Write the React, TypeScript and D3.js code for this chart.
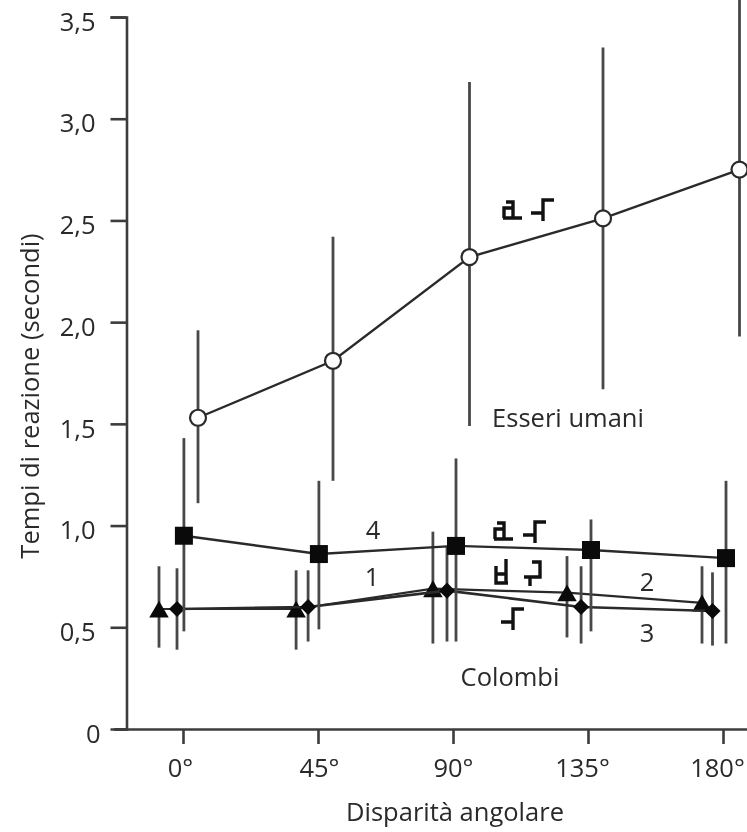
import * as d3 from "d3";
import {useEffect, useRef} from "react";

const angles = [0, 45, 90, 135, 180];
const yTicks = [0, 0.5, 1, 1.5, 2, 2.5, 3, 3.5];
const xLabels = ["0°", "45°", "90°", "135°", "180°"];
const xLabelNudge = [-3, 1, 0, -6, -6];

// each series is drawn a little to the side of its angle, as in the figure
const humanX = [5, 50, 95.5, 140, 185.5];
const humanY = [1.53, 1.81, 2.32, 2.51, 2.75];
const humanHi = [1.96, 2.42, 3.18, 3.35, 3.7];
const humanLo = [1.11, 1.22, 1.49, 1.67, 1.93];

const squareX = [0.3, 45.3, 91, 136, 181];
const squareY = [0.95, 0.86, 0.9, 0.88, 0.84];
const squareHi = [1.43, 1.22, 1.33, 1.03, 1.22];
const squareLo = [0.48, 0.49, 0.43, 0.48, 0.42];

const triangleX = [-8, 37.7, 83.3, 128, 173];
const triangleY = [0.59, 0.59, 0.69, 0.67, 0.62];
const triangleHi = [0.8, 0.78, 0.97, 0.85, 0.8];
const triangleLo = [0.4, 0.39, 0.42, 0.45, 0.42];

const diamondX = [-2, 41.7, 88, 132.7, 176.5];
const diamondY = [0.59, 0.6, 0.68, 0.6, 0.58];
const diamondHi = [0.79, 0.78, 0.9, 0.8, 0.77];
const diamondLo = [0.39, 0.43, 0.43, 0.42, 0.41];

const seriesLabels = [
    {text: "Esseri umani", x: 568, y: 427},
    {text: "Colombi", x: 510, y: 686},
    {text: "4", x: 373, y: 539},
    {text: "1", x: 372, y: 586},
    {text: "2", x: 647, y: 591},
    {text: "3", x: 647, y: 642},
];

// small stimulus shapes printed next to the lines
const glyphA = "M-9,8 H10 M1,8 V-8 H-6 M-8,8 V-2 H1";
const glyphB = "M-12,2 H0 M0,10 V-11 H11";
const glyphC = "M-6,-6 V11 H6 M4,-13 V11 M-6,2 H4";
const glyphD = "M0,-11 H8 V4 H-8 M-2,4 V13";
const glyphs = [
    {d: glyphA, x: 512, y: 210},
    {d: glyphB, x: 543, y: 211},
    {d: glyphA, x: 503, y: 531},
    {d: glyphB, x: 535, y: 533},
    {d: glyphC, x: 502, y: 572},
    {d: glyphD, x: 532, y: 573},
    {d: glyphB, x: 513, y: 620},
];

const App = () => {
    const ref = useRef<SVGSVGElement>(null);

    useEffect(() => {
        const width = 747;
        const svg = d3.select(ref.current);
        svg.selectAll("*").remove();
        const font = "'Open Sans', sans-serif";
        const ink = "#2a2a2a";
        const fontSize = 25.5;

        const x = d3.scaleLinear().domain([0, 180]).range([183, 723]);
        const y = d3.scaleLinear().domain([0, 3.5]).range([729, 17]);

        const drawSeries = (xs, ys, his, los, lineWidth, mark) => {
            const g = svg.append("g");
            xs.forEach((d, i) => {
                g.append("line")
                    .attr("x1", x(d)).attr("x2", x(d))
                    .attr("y1", y(his[i])).attr("y2", y(los[i]))
                    .attr("stroke", "#484848").attr("stroke-width", 2.8);
            });
            const line = d3.line<number>().x((d, i) => x(xs[i])).y(d => y(d));
            g.append("path")
                .attr("d", line(ys))
                .attr("fill", "none")
                .attr("stroke", ink)
                .attr("stroke-width", lineWidth);
            xs.forEach((d, i) => mark(g, x(d), y(ys[i])));
        };

        const symbolMark = (type, size, rotate = 0, dy = 0) => (g, px, py) =>
            g.append("path")
                .attr("d", d3.symbol().type(type).size(size)())
                .attr("transform", `translate(${px},${py + dy}) rotate(${rotate})`)
                .attr("fill", "#0a0a0a");

        drawSeries(triangleX, triangleY, triangleHi, triangleLo, 2.2, symbolMark(d3.symbolTriangle, 165, 0, 3));
        drawSeries(diamondX, diamondY, diamondHi, diamondLo, 2.6, symbolMark(d3.symbolSquare, 130, 45));
        drawSeries(squareX, squareY, squareHi, squareLo, 2.4, symbolMark(d3.symbolSquare, 324));
        drawSeries(humanX, humanY, humanHi, humanLo, 2.4, (g, px, py) =>
            g.append("circle")
                .attr("cx", px).attr("cy", py).attr("r", 8)
                .attr("fill", "white")
                .attr("stroke", ink)
                .attr("stroke-width", 2.2));

        // axes
        const yAxis = svg.append("g")
            .attr("transform", "translate(126.5,0)")
            .call(d3.axisLeft(y).tickValues(yTicks).tickSize(16).tickPadding(15)
                .tickFormat(d => (d === 0 ? "0" : d3.format(".1f")(d).replace(".", ","))));
        const xAxis = svg.append("g")
            .attr("transform", "translate(0,729)")
            .call(d3.axisBottom(x).tickValues(angles).tickSize(15).tickPadding(15)
                .tickFormat((d, i) => xLabels[i]));
        xAxis.select(".domain").attr("d", `M114,0.5H${width}`);
        yAxis.selectAll("text").attr("dy", "0.52em");
        yAxis.selectAll(".tick").filter(d => d === 0).select("line").attr("x2", -12);
        yAxis.selectAll(".tick").filter(d => d === 0).select("text").attr("x", -26);
        xAxis.selectAll("text").attr("dx", (d, i) => xLabelNudge[i]);

        [yAxis, xAxis].forEach(a => {
            a.selectAll("path, line").attr("stroke", "#3c3c3c").attr("stroke-width", 2.6);
            a.selectAll("text").attr("fill", ink).attr("font-family", font).attr("font-size", fontSize);
        });

        svg.append("text")
            .attr("transform", "translate(39,396) rotate(-90)")
            .attr("text-anchor", "middle")
            .attr("font-family", font).attr("font-size", fontSize).attr("fill", ink)
            .text("Tempi di reazione (secondi)");
        svg.append("text")
            .attr("x", 455).attr("y", 821)
            .attr("text-anchor", "middle")
            .attr("font-family", font).attr("font-size", fontSize).attr("fill", ink)
            .text("Disparità angolare");

        svg.append("g").selectAll("text").data(seriesLabels).join("text")
            .attr("x", d => d.x).attr("y", d => d.y)
            .attr("text-anchor", "middle")
            .attr("font-family", font).attr("font-size", fontSize).attr("fill", ink)
            .text(d => d.text);

        svg.append("g").selectAll("path").data(glyphs).join("path")
            .attr("d", d => d.d)
            .attr("transform", d => `translate(${d.x},${d.y})`)
            .attr("fill", "none")
            .attr("stroke", "#111")
            .attr("stroke-width", 3.4);
    }, []);

    return <svg ref={ref} width={747} height={832} style={{position: "absolute", left: 0, top: 0, background: "white", filter: "blur(0.5px)"}} />;
};

export default App;
